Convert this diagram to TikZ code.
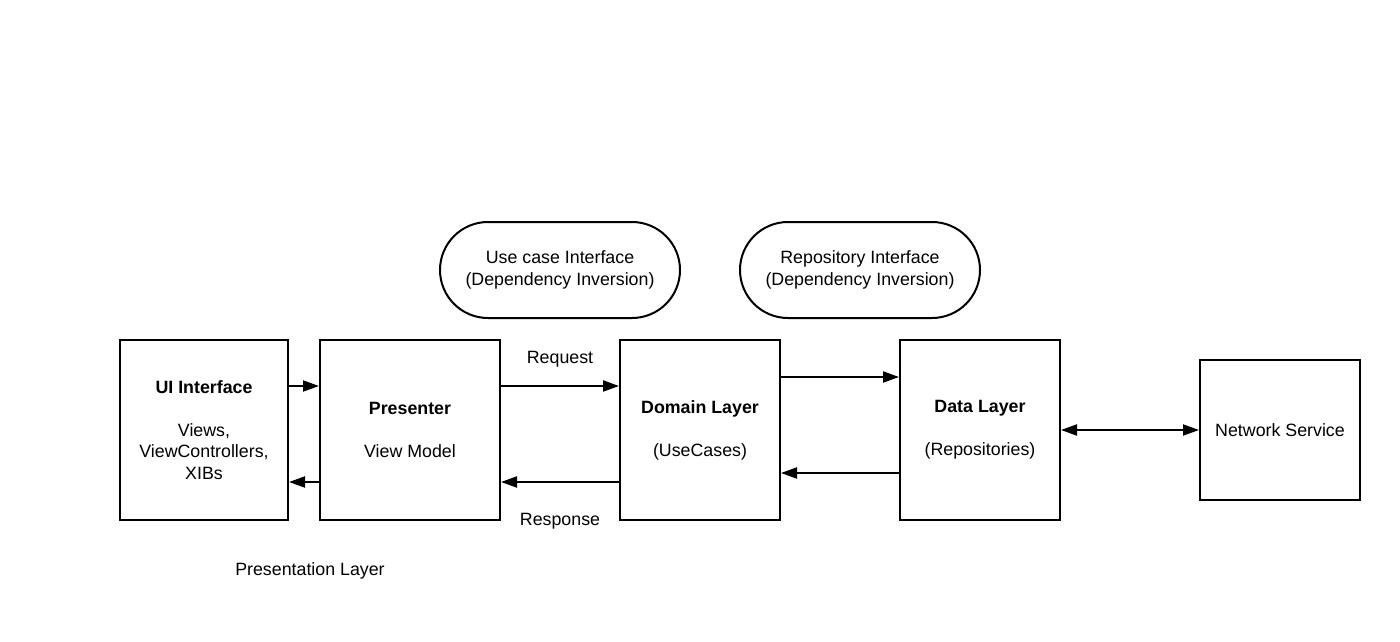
\documentclass[tikz,border=0pt]{standalone}
\usepackage{fontspec}
\setmainfont{Liberation Sans}
\usetikzlibrary{arrows.meta}
\begin{document}
\begin{tikzpicture}[x=1pt,y=-1pt,
  box/.style={draw,line width=2pt,rectangle,align=center,inner sep=0pt,font=\fontsize{17.8}{21.5}\selectfont},
  pill/.style={draw,line width=2pt,rectangle,rounded corners=48pt,minimum width=240pt,minimum height=96pt,align=center,inner sep=0pt,font=\fontsize{17.8}{21.5}\selectfont},
  conn/.style={line width=2pt,-{Triangle[length=16pt,width=11pt]}},
  lbl/.style={font=\fontsize{17.8}{21}\selectfont,inner sep=0pt}]
\useasboundingbox (0,0) rectangle (1400,642);
\node[box,minimum width=168pt,minimum height=180pt] (ui) at (204,430) {\textbf{UI Interface}\\[21.5pt]Views,\\ViewControllers,\\XIBs};
\node[box,minimum width=180pt,minimum height=180pt] (pres) at (410,430) {\textbf{Presenter}\\[21.5pt]View Model};
\node[box,minimum width=160pt,minimum height=180pt] (dom) at (700,430) {\textbf{Domain Layer}\\[21.5pt](UseCases)};
\node[box,minimum width=160pt,minimum height=180pt] (data) at (980,430) {\textbf{Data Layer}\\[21.5pt](Repositories)};
\node[box,minimum width=160pt,minimum height=140pt] (net) at (1280,430) {Network Service};
\node[pill] (uci) at (560,270) {Use case Interface\\(Dependency Inversion)};
\node[pill] (rep) at (860,270) {Repository Interface\\(Dependency Inversion)};
\node[lbl] (req) at (560,359) {Request};
\node[lbl] (resp) at (560,521) {Response};
\node[lbl] (pl) at (310,571) {Presentation Layer};
\draw[conn] (ui.east |- 0,386) -- (pres.west |- 0,386);
\draw[conn] (pres.west |- 0,482) -- (ui.east |- 0,482);
\draw[conn] (pres.east |- 0,386) -- (dom.west |- 0,386);
\draw[conn] (dom.west |- 0,482) -- (pres.east |- 0,482);
\draw[conn] (dom.east |- 0,377) -- (data.west |- 0,377);
\draw[conn] (data.west |- 0,473) -- (dom.east |- 0,473);
\draw[conn,{Triangle[length=16pt,width=11pt]}-{Triangle[length=16pt,width=11pt]}] (data.east |- 0,430) -- (net.west |- 0,430);
\end{tikzpicture}
\end{document}
